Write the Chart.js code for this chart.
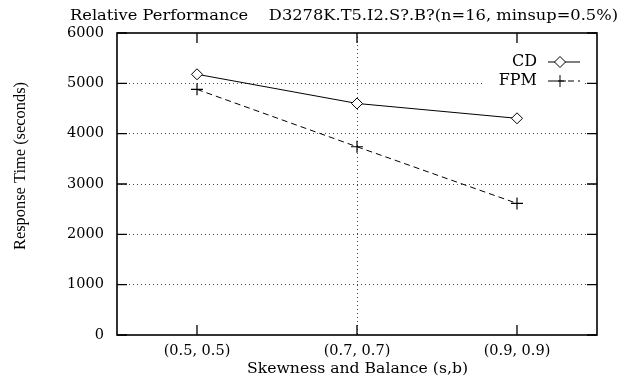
<!DOCTYPE html>
<html>
<head>
<meta charset="utf-8">
<script src="https://cdn.jsdelivr.net/npm/chart.js@4/dist/chart.umd.min.js"></script>
<style>
html,body{margin:0;padding:0;background:#fff;}
#wrap{width:636px;height:383px;position:relative;}
</style>
</head>
<body>
<div id="wrap"><canvas id="c" width="636" height="383"></canvas></div>
<script>
const categories = ['(0.5, 0.5)', '(0.7, 0.7)', '(0.9, 0.9)'];
const cdValues = [5180, 4600, 4305];
const fpmValues = [4880, 3740, 2615];
const yTicks = [0, 1000, 2000, 3000, 4000, 5000, 6000];
const seriesNames = ['CD', 'FPM'];
const titleText = 'Relative Performance    D3278K.T5.I2.S?.B?(n=16, minsup=0.5%)';
const xTitle = 'Skewness and Balance (s,b)';
const yTitle = 'Response Time (seconds)';

const FONT = '"DejaVu Serif", "Liberation Serif", serif';
const FONT2 = '"Liberation Serif", "DejaVu Serif", serif';
const FS = 14.5;

function fitText(ctx, text, x, y, width) {
  const tw = ctx.measureText(text).width;
  ctx.save();
  ctx.translate(x, y);
  ctx.scale(width / tw, 1);
  ctx.fillText(text, 0, 0);
  ctx.restore();
}

const decor = {
  id: 'decor',
  afterDraw(chart) {
    const ctx = chart.ctx;
    const a = chart.chartArea;
    const xs = chart.scales.x, ys = chart.scales.y;
    ctx.save();
    ctx.strokeStyle = '#000';
    ctx.lineWidth = 1.6;
    ctx.strokeRect(a.left, a.top, a.right - a.left, a.bottom - a.top);
    ctx.lineWidth = 1.3;
    ctx.beginPath();
    xs.ticks.forEach((t, i) => {
      const px = xs.getPixelForTick(i);
      ctx.moveTo(px, a.bottom); ctx.lineTo(px, a.bottom - 10);
      ctx.moveTo(px, a.top); ctx.lineTo(px, a.top + 10);
    });
    ys.ticks.forEach((t) => {
      const py = ys.getPixelForValue(t.value);
      ctx.moveTo(a.left, py); ctx.lineTo(a.left + 10, py);
      ctx.moveTo(a.right, py); ctx.lineTo(a.right - 10, py);
    });
    ctx.stroke();
    ctx.fillStyle = '#000';
    ctx.textBaseline = 'middle';
    ctx.textAlign = 'left';
    ctx.font = FS + 'px ' + FONT;
    fitText(ctx, titleText, 70, 16, 548);
    ctx.font = '17px ' + FONT2;
    ctx.save();
    ctx.translate(21, 250);
    ctx.rotate(-Math.PI / 2);
    fitText(ctx, yTitle, 0, 0, 168);
    ctx.restore();
    ctx.font = '15.5px ' + FONT;
    fitText(ctx, xTitle, 247, 369, 221);
    ctx.font = '16px ' + FONT;
    ctx.textAlign = 'right';
    const lx = 537, ly = [62, 81];
    chart.data.datasets.forEach((ds, i) => {
      ctx.fillStyle = '#fff';
      ctx.fillRect(lx - 52, ly[i] - 9, 100, 18);
      ctx.fillStyle = '#000';
      ctx.fillText(ds.label, lx, ly[i]);
      const x0 = 548, x1 = 580, y = ly[i];
      ctx.save();
      ctx.lineWidth = 1;
      ctx.strokeStyle = '#000';
      ctx.setLineDash(ds.borderDash || []);
      ctx.beginPath(); ctx.moveTo(x0, y); ctx.lineTo(x1, y); ctx.stroke();
      ctx.restore();
      ctx.save();
      ctx.fillStyle = '#fff';
      ctx.strokeStyle = '#000';
      ctx.lineWidth = 1;
      Chart.helpers.drawPoint(ctx, {
        pointStyle: ds.pointStyle, radius: ds.pointRadius, borderWidth: 1
      }, (x0 + x1) / 2 - 4, y);
      ctx.restore();
    });
    ctx.restore();
  }
};

new Chart(document.getElementById('c'), {
  type: 'line',
  data: {
    labels: categories,
    datasets: [
      {
        label: seriesNames[0], data: cdValues,
        borderColor: '#000', borderWidth: 1, backgroundColor: '#fff',
        pointStyle: 'rectRot', pointRadius: 5.5, pointBorderWidth: 1,
        pointBackgroundColor: '#fff', pointBorderColor: '#000'
      },
      {
        label: seriesNames[1], data: fpmValues,
        borderColor: '#000', borderWidth: 1, borderDash: [6, 4],
        pointStyle: 'cross', pointRadius: 6, pointBorderWidth: 1.2,
        pointBorderColor: '#000'
      }
    ]
  },
  options: {
    responsive: false,
    animation: false,
    layout: { padding: { top: 33, right: 39, left: 0, bottom: 0 } },
    plugins: { legend: { display: false }, title: { display: false }, tooltip: { enabled: false } },
    scales: {
      x: {
        type: 'category', offset: true,
        grid: {
          offset: false, drawTicks: false, lineWidth: 1,
          color: (c) => (c.index === 1 ? '#444' : 'rgba(0,0,0,0)')
        },
        border: { display: false, dash: [1, 3] },
        ticks: { color: '#000', font: { family: FONT, size: FS }, padding: 8, maxRotation: 0 },
        afterFit: (s) => { s.height = 48; }
      },
      y: {
        min: 0, max: 6000,
        afterBuildTicks: (s) => { s.ticks = yTicks.map(v => ({ value: v })); },
        grid: {
          drawTicks: false, lineWidth: 1,
          color: (c) => (c.tick && c.tick.value > 0 && c.tick.value < 6000 ? '#444' : 'rgba(0,0,0,0)')
        },
        border: { display: false, dash: [1, 3] },
        ticks: { color: '#000', font: { family: FONT, size: FS }, padding: 13, callback: (v) => String(v) },
        afterFit: (s) => { s.width = 117; }
      }
    }
  },
  plugins: [decor]
});
</script>
</body>
</html>
